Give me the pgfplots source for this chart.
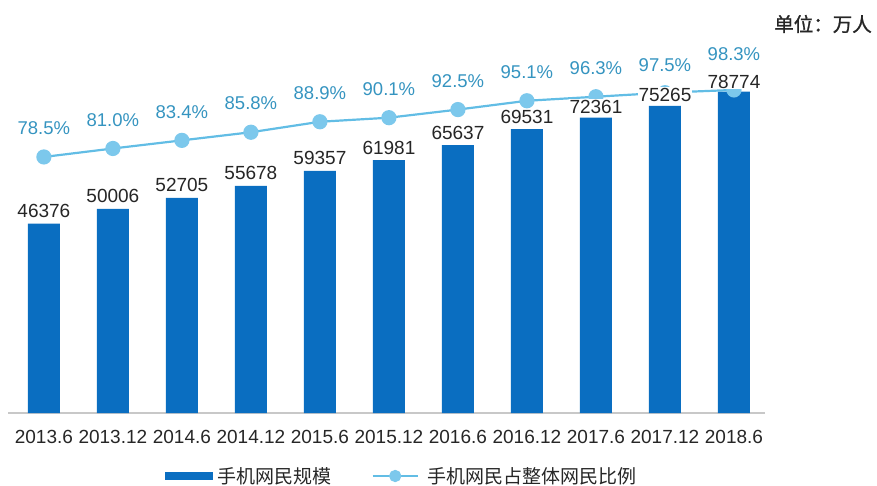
\documentclass[border=0pt]{standalone}
\usepackage{pgfplots}
\pgfplotsset{compat=1.18}
\usepackage{pgfplotstable}
\usepackage{fontspec}
\setmainfont{Liberation Sans}
\newfontfamily\cjk{Noto Sans CJK SC}
\newfontfamily\cjkb[FakeBold=1.2]{Noto Sans CJK SC}
\definecolor{barblue}{HTML}{0A6EC1}
\definecolor{linec}{HTML}{62BDE5}
\definecolor{markc}{HTML}{7CC8EC}
\definecolor{pctc}{HTML}{3594C0}
\definecolor{txt}{HTML}{262626}
\definecolor{axc}{HTML}{C8C8C8}

\pgfplotstableread{
x v p boff poff
0 46376 78.5 5 21
1 50006 81.0 5 21
2 52705 83.4 5 21
3 55678 85.8 5 21
4 59357 88.9 5 21
5 61981 90.1 4 21
6 65637 92.5 4 21
7 69531 95.1 4 21
8 72361 96.3 3 21
9 75265 97.5 3 20
10 78774 98.3 2 28
}\data

\pgfplotsset{
 base/.style={scale only axis, width=757bp, height=373bp, at={(8bp,73bp)}, anchor=south west, xmin=-0.52, xmax=10.45, clip=false},
 lineleg/.style={legend image code/.code={\draw[mark repeat=2,mark phase=2,##1,mark size=5bp] plot coordinates {(0bp,0bp) (22.5bp,0bp) (45bp,0bp)}; \path (49bp,0bp);}},
 barleg/.style={legend image code/.code={\fill[barblue] (0bp,-3.5bp) rectangle (47bp,3.5bp);}},
}

\begin{document}
\begin{tikzpicture}
\path[use as bounding box] (0,0) rectangle (877bp,486bp);
\begin{axis}[base, ymin=0, ymax=91400,
 axis x line=bottom, axis y line=none, x axis line style={-, draw=axc, line width=1.3bp},
 xtick={0,...,10}, xticklabels={2013.6,2013.12,2014.6,2014.12,2015.6,2015.12,2016.6,2016.12,2017.6,2017.12,2018.6},
 major tick length=0pt,
 xticklabel style={font=\fontsize{19bp}{22bp}\selectfont, text=txt, inner sep=0pt, anchor=north, yshift=-17bp},
 ]
\addplot[ybar, bar width=32bp, fill=barblue, draw=none] table[x=x,y=v]{\data};
\end{axis}
\begin{axis}[base, ymin=2.84, ymax=113.06, hide axis,
 legend columns=2,
 legend style={at={(0.2074,-0.1689)}, anchor=west, draw=none, fill=none, inner sep=0pt,
   font=\cjk\fontsize{19bp}{22bp}\selectfont, text=txt, nodes={inner sep=0pt},
   /tikz/every odd column/.append style={column sep=5bp},
   /tikz/every even column/.append style={column sep=40bp}},
]
\addlegendimage{barleg}
\addlegendentry{手机网民规模}
\addplot[color=linec, line width=2.2bp, mark=*, mark size=6.5bp, mark options={fill=markc, draw=markc},
 lineleg,
 point meta=explicit symbolic, visualization depends on={\thisrow{poff} \as \poff},
 nodes near coords={\pgfplotspointmeta\%},
 every node near coord/.append style={font=\fontsize{18.5bp}{22bp}\selectfont, text=pctc, anchor=south, inner sep=0pt, yshift={\poff*1bp}}
] table[x=x,y=p,meta=p]{\data};
\addlegendentry{手机网民占整体网民比例}
\end{axis}
\begin{axis}[base, ymin=0, ymax=91400, hide axis]
\addplot[ybar, bar width=32bp, draw=none, fill=none, point meta=explicit symbolic,
 visualization depends on={\thisrow{boff} \as \boff},
 nodes near coords,
 every node near coord/.append style={font=\fontsize{19bp}{22bp}\selectfont, text=txt, fill=white, inner sep=1bp, anchor=south, yshift={\boff*1bp}}
] table[x=x,y=v,meta=v]{\data};
\end{axis}
\node[anchor=east, inner sep=0pt, text=txt, font=\cjkb\fontsize{19.5bp}{22bp}\selectfont] at (872bp,462bp) {单位：万人};
\end{tikzpicture}
\end{document}
